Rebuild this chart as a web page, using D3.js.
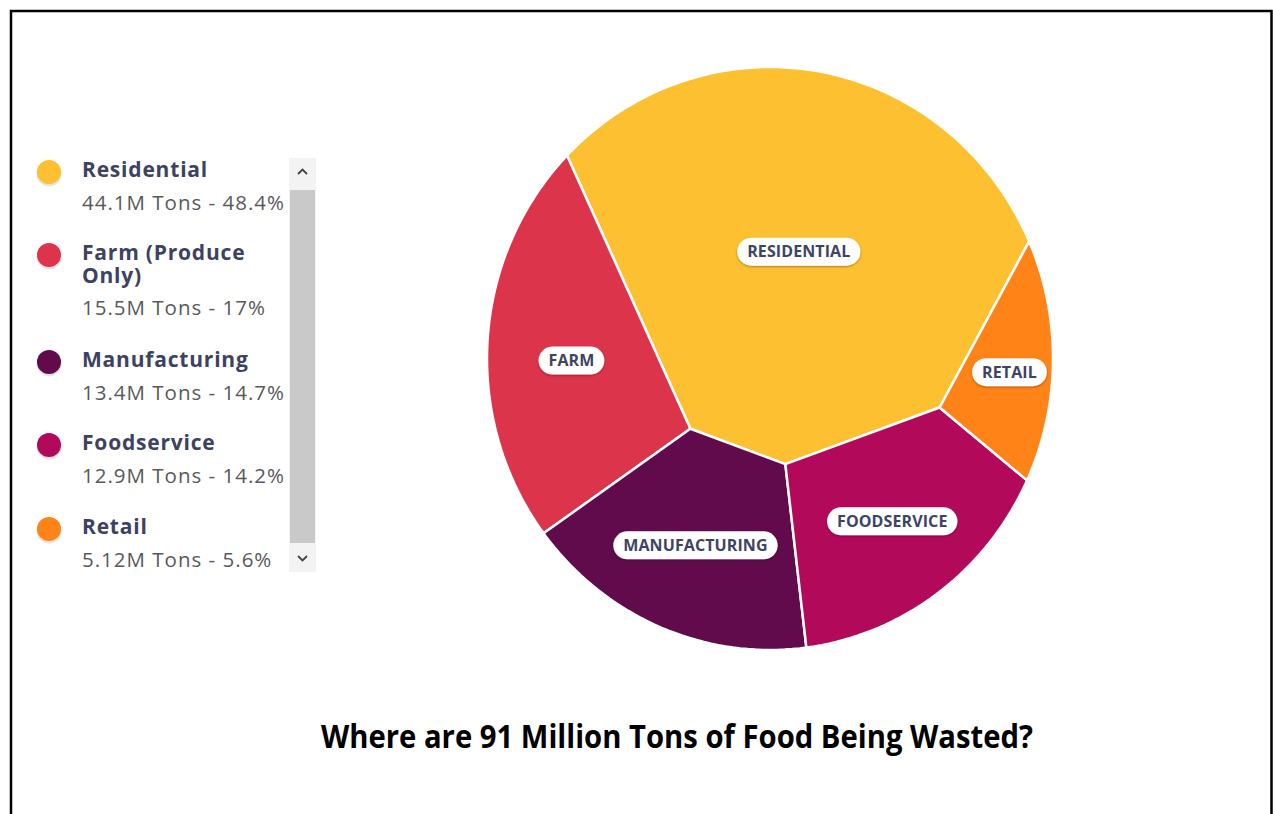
<!DOCTYPE html>
<html>
<head>
<meta charset="utf-8">
<script src="https://cdn.jsdelivr.net/npm/d3@7"></script>
<style>
  body { margin: 0; background: #fff; }
  svg { display: block; }
</style>
</head>
<body>
<script>
// data
const categories = ["Residential", "Farm (Produce Only)", "Manufacturing", "Foodservice", "Retail"];
const nameLines = [["Residential"], ["Farm (Produce", "Only)"], ["Manufacturing"], ["Foodservice"], ["Retail"]];
const shortLabels = ["RESIDENTIAL", "FARM", "MANUFACTURING", "FOODSERVICE", "RETAIL"];
const tonLabels = ["44.1M", "15.5M", "13.4M", "12.9M", "5.12M"];
const percents = [48.4, 17, 14.7, 14.2, 5.6];
const colors = ["#fdc030", "#dc344b", "#610a4c", "#b3095b", "#ff8316"];
const title = "Where are 91 Million Tons of Food Being Wasted?";

const width = 1273;
const height = 814;

const svg = d3.select("body").append("svg")
  .attr("width", width)
  .attr("height", height);

// frame
svg.append("rect")
  .attr("x", 11).attr("y", 11)
  .attr("width", 1260.5).attr("height", 830)
  .attr("fill", "none")
  .attr("stroke", "#000")
  .attr("stroke-width", 2.5);

// ---- voronoi treemap inside a unit disk (power diagram, iterated) ----
const N = 240;
const disk = d3.range(N).map(k => {
  const a = 2 * Math.PI * k / N;
  return [Math.sin(a), -Math.cos(a)];
});
const diskArea = Math.abs(d3.polygonArea(disk));
const total = d3.sum(percents);

// seeds from a pie layout, going counter-clockwise
const startA = 100 * Math.PI / 180;
const pie = d3.pie().sort(null).value(d => d)
  .startAngle(startA).endAngle(startA - 2 * Math.PI);
const sites = pie(percents).map((a, i) => {
  const m = (a.startAngle + a.endAngle) / 2;
  return {
    x: 0.5 * Math.sin(m), y: -0.5 * Math.cos(m),
    w: diskArea / percents.length / 2,
    target: diskArea * percents[i] / total
  };
});

function clip(poly, a, b, c) {
  const out = [];
  for (let i = 0; i < poly.length; i++) {
    const p = poly[i], q = poly[(i + 1) % poly.length];
    const fp = a * p[0] + b * p[1] - c, fq = a * q[0] + b * q[1] - c;
    if (fp <= 0) out.push(p);
    if ((fp < 0 && fq > 0) || (fp > 0 && fq < 0)) {
      const t = fp / (fp - fq);
      out.push([p[0] + t * (q[0] - p[0]), p[1] + t * (q[1] - p[1])]);
    }
  }
  return out;
}

function cell(i) {
  const s = sites[i];
  let poly = disk;
  sites.forEach((t, j) => {
    if (j === i) return;
    const a = 2 * (t.x - s.x), b = 2 * (t.y - s.y);
    const c = t.x * t.x + t.y * t.y - s.x * s.x - s.y * s.y - t.w + s.w;
    poly = clip(poly, a, b, c);
  });
  return poly;
}

for (let it = 0; it < 600; it++) {
  const cells = sites.map((s, i) => cell(i));
  sites.forEach((s, i) => {
    const poly = cells[i];
    if (poly.length < 3) { s.w *= 0.9; return; }
    const A = Math.abs(d3.polygonArea(poly));
    const c = d3.polygonCentroid(poly);
    s.x = c[0]; s.y = c[1];
    const r = Math.max(0.9, Math.min(1.1, s.target / A));
    s.w = Math.max(s.w * r, 1e-6);
  });
  for (let i = 0; i < sites.length; i++) {
    for (let j = i + 1; j < sites.length; j++) {
      const a = sites[i], b = sites[j];
      const d2 = (a.x - b.x) ** 2 + (a.y - b.y) ** 2;
      const hi = a.w > b.w ? a : b, lo = a.w > b.w ? b : a;
      if (d2 < hi.w - lo.w) lo.w += hi.w - lo.w - d2 + 1e-6;
    }
  }
}
const cells = sites.map((s, i) => cell(i));

const x = d3.scaleLinear().domain([-1, 1]).range([487, 1053]);
const y = d3.scaleLinear().domain([-1, 1]).range([67, 650]);
const line = d3.line().x(d => x(d[0])).y(d => y(d[1])).curve(d3.curveLinearClosed);

const chart = svg.append("g");
chart.selectAll("path.cell")
  .data(cells)
  .enter().append("path")
  .attr("class", "cell")
  .attr("d", d => line(d))
  .attr("fill", (d, i) => colors[i])
  .attr("stroke", "#fff")
  .attr("stroke-width", 2.5)
  .attr("stroke-linejoin", "round");

// labels
const defs = svg.append("defs");
const f = defs.append("filter").attr("id", "pillShadow")
  .attr("x", "-20%").attr("y", "-40%").attr("width", "140%").attr("height", "180%");
f.append("feDropShadow").attr("dx", 0).attr("dy", 1).attr("stdDeviation", 1.2)
  .attr("flood-color", "#000").attr("flood-opacity", 0.35);

const labels = chart.selectAll("g.lbl")
  .data(cells)
  .enter().append("g")
  .attr("class", "lbl")
  .attr("transform", d => {
    const c = d3.polygonCentroid(d);
    return `translate(${x(c[0])},${y(c[1])})`;
  });
labels.append("rect").attr("class", "pill");
labels.append("text")
  .text((d, i) => shortLabels[i])
  .attr("text-anchor", "middle")
  .attr("dy", "0.36em")
  .style("font-family", "'Open Sans', sans-serif")
  .style("font-weight", 700)
  .style("font-size", "16px")
  .style("letter-spacing", "0.1px")
  .attr("fill", "#3e4463");
labels.each(function() {
  const g = d3.select(this);
  const w = g.select("text").node().getComputedTextLength() + 20;
  g.select("rect")
    .attr("x", -w / 2).attr("y", -14)
    .attr("width", w).attr("height", 28)
    .attr("rx", 14)
    .attr("fill", "#fff")
    .attr("filter", "url(#pillShadow)");
});

// ---- legend ----
const legendY = d3.scaleOrdinal().domain(categories).range([172, 255, 362, 445, 529]);
const legend = svg.append("g");
const item = legend.selectAll("g.item")
  .data(categories)
  .enter().append("g")
  .attr("class", "item")
  .attr("transform", d => `translate(0,${legendY(d)})`);

item.append("circle")
  .attr("cx", 49).attr("cy", 2).attr("r", 12.5)
  .attr("fill", "#e4e4e4");
item.append("circle")
  .attr("cx", 49).attr("cy", 0).attr("r", 12)
  .attr("fill", (d, i) => colors[i]);

item.each(function(d, i) {
  const g = d3.select(this);
  const lines = nameLines[i];
  const name = g.append("text")
    .attr("y", 5)
    .style("font-family", "'Open Sans', sans-serif")
    .style("font-weight", 700)
    .style("font-size", "21px")
    .style("letter-spacing", "0.8px")
    .attr("fill", "#3d4262");
  lines.forEach((t, k) => {
    name.append("tspan")
      .attr("x", 82)
      .attr("dy", k === 0 ? 0 : 23)
      .text(t);
  });
  g.append("text")
    .attr("x", 82).attr("y", 38 + (lines.length - 1) * 22)
    .text(`${tonLabels[i]} Tons - ${percents[i]}%`)
    .style("font-family", "'Open Sans', sans-serif")
    .style("font-size", "20.5px")
    .style("letter-spacing", "1px")
    .attr("fill", "#595959");
});

// scrollbar
const sb = svg.append("g");
sb.append("rect").attr("x", 289).attr("y", 158).attr("width", 27).attr("height", 414).attr("fill", "#f3f3f3");
sb.append("rect").attr("x", 290).attr("y", 190).attr("width", 25).attr("height", 353).attr("fill", "#c9c9c9");
sb.append("path").attr("d", "M298,174 L302.5,169.5 L307,174")
  .attr("fill", "none").attr("stroke", "#444").attr("stroke-width", 1.8);
sb.append("path").attr("d", "M298,556 L302.5,560.5 L307,556")
  .attr("fill", "none").attr("stroke", "#444").attr("stroke-width", 1.8);

// title
svg.append("text")
  .attr("x", 677).attr("y", 748)
  .attr("text-anchor", "middle")
  .attr("textLength", 712)
  .attr("lengthAdjust", "spacingAndGlyphs")
  .text(title)
  .style("font-family", "'Open Sans', sans-serif")
  .style("font-weight", 700)
  .style("font-size", "32px")
  .attr("fill", "#000");
</script>
</body>
</html>
